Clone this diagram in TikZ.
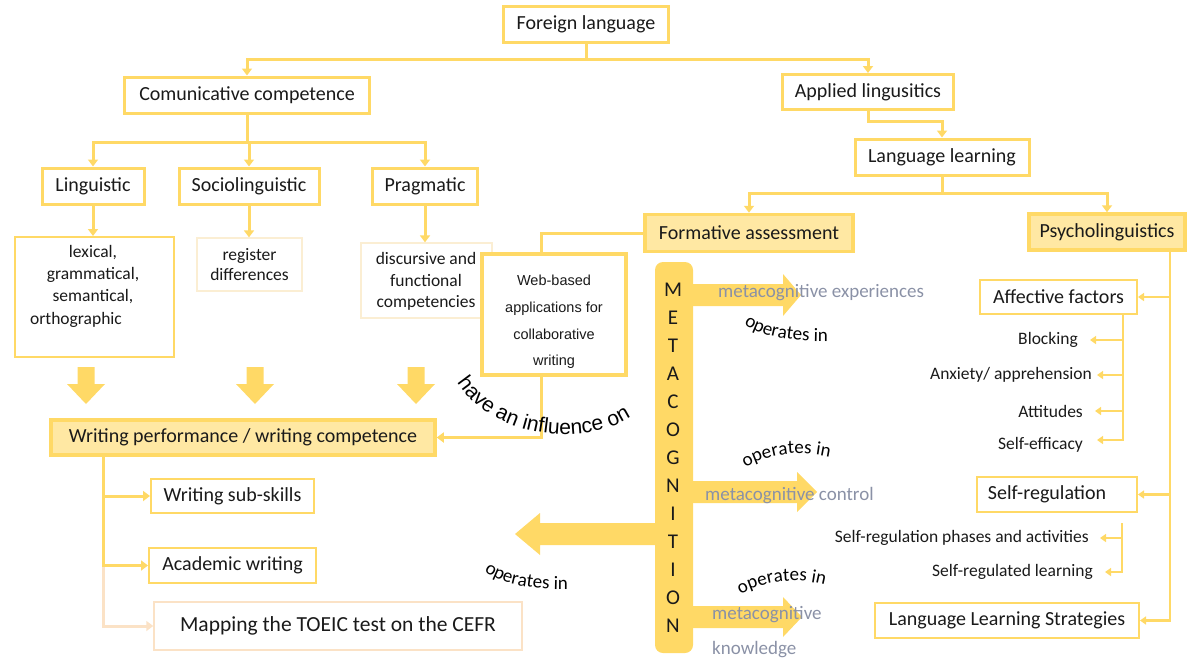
\documentclass[tikz,border=0pt]{standalone}
\usepackage{fontspec}
\setmainfont{Carlito}
\newfontfamily\arialf{Liberation Sans}
\usetikzlibrary{arrows.meta,decorations.text}
\definecolor{ylw}{HTML}{FFD966}
\definecolor{lyl}{HTML}{FFE8A3}
\definecolor{pale}{HTML}{FBEED3}
\definecolor{peach}{HTML}{FBE2C6}
\definecolor{gtxt}{HTML}{8A91A6}
\definecolor{ink}{HTML}{1A1A1A}
\begin{document}
\begin{tikzpicture}[x=1pt,y=-1pt,
  box/.style={draw=ylw, line width=3pt, fill=white, inner sep=0pt, text=ink, font=\fontsize{20}{24}\selectfont},
  hbox/.style={box, fill=lyl, line width=3.5pt},
  tbox/.style={draw=ylw, line width=2pt, fill=white, inner sep=0pt, text=ink, font=\fontsize{20}{24}\selectfont},
  pbox/.style={draw=pale, line width=1.3pt, fill=white, inner sep=0pt, text=ink, align=center},
  conn/.style={draw=ylw, line width=3pt, -{Triangle[width=10pt,length=7pt]}},
  pconn/.style={draw=peach, line width=3pt, -{Triangle[width=10pt,length=7pt]}},
  sconn/.style={draw=ylw, line width=2.5pt, -{Triangle[width=8pt,length=6pt]}},
  plain/.style={draw=ylw, line width=3pt},
  lbl/.style={inner sep=0pt, anchor=east, text=ink, font=\fontsize{17.5}{20}\selectfont},
  gl/.style={inner sep=0pt, anchor=west, text=gtxt, font=\fontsize{19}{22}\selectfont},
  txt/.style={inner sep=0pt, text=ink, align=center},
  letter/.style={inner sep=0pt, text=ink, font=\fontsize{21}{21}\selectfont},
]
\useasboundingbox (0,0) rectangle (1188,659);

% ---------- top part ----------
\node[box, minimum width=165, minimum height=36] (fl) at (586,24) {Foreign language};
\node[box, minimum width=245, minimum height=36] (cc) at (247,95) {Comunicative competence};
\node[box, minimum width=171, minimum height=35] (al) at (868,92) {Applied lingusitics};
\node[box, minimum width=174, minimum height=36] (ll) at (942,157) {Language learning};
\node[hbox, minimum width=208, minimum height=37] (fa) at (749,233) {Formative assessment};
\node[hbox, minimum width=156, minimum height=36] (ps) at (1107,232) {Psycholinguistics};
\node[box, minimum width=102, minimum height=36] (li) at (93,186) {Linguistic};
\node[box, minimum width=140, minimum height=36] (so) at (249,186) {Sociolinguistic};
\node[box, minimum width=105, minimum height=36] (pr) at (425,186) {Pragmatic};

\coordinate (j1) at (586,59);
\draw[conn] (fl.south) -- (j1) -| (cc.north);
\draw[conn] (j1) -| (al.north);
\coordinate (j2) at (868,121);
\draw[conn] (al.south) -- (j2) -| (ll.north);
\coordinate (j3) at (942,193);
\draw[conn] (ll.south) -- (j3) -| (fa.north);
\draw[conn] (j3) -| (ps.north);
\coordinate (j4) at (247,142);
\draw[conn] (cc.south) -- (j4) -| (li.north);
\draw[conn] (j4) -| (so.north);
\draw[conn] (j4) -| (pr.north);

% ---------- descriptions ----------
\node[tbox, minimum width=159, minimum height=120] (lid) at (94.5,297) {};
\node[txt, font=\fontsize{17.5}{22.3}\selectfont] (lidt) at (93,286) {lexical,\\grammatical,\\semantical,\\orthographic\hspace*{34pt}};
\node[pbox, minimum width=105, minimum height=53, font=\fontsize{17.5}{20}\selectfont] (sod) at (249.5,264.5) {register\\differences};
\node[pbox, minimum width=131, minimum height=75, font=\fontsize{17.5}{21.5}\selectfont] (prd) at (426.5,280.5) {};
\node[txt, font=\fontsize{17.5}{21.5}\selectfont] (prdt) at (426,281.5) {discursive and\\functional\\competencies};
\draw[conn] (li.south) -- (li.south |- lid.north);
\draw[conn] (so.south) -- (so.south |- sod.north);
\draw[conn] (pr.south) -- (pr.south |- prd.north);

% web-based box
\node[draw=ylw, line width=4pt, fill=white, minimum width=144, minimum height=121, inner sep=0pt] (web) at (554,314.5) {};
\node[txt, font=\arialf\fontsize{14.5}{26.7}\selectfont] (webt) at (554,322) {Web-based\\applications for\\collaborative\\writing};
\draw[plain] (fa.west) -| ([xshift=-13pt]web.north);

% big down arrows
\foreach \c in {86,255,416}
  \fill[ylw] (\c-8.5,367) -- (\c+8.5,367) -- (\c+8.5,384) -- (\c+19,384) -- (\c,404) -- (\c-19,384) -- (\c-8.5,384) -- cycle;

% writing performance
\node[hbox, minimum width=384, minimum height=35] (wp) at (243,437.5) {Writing performance / writing competence};
\draw[conn] ([xshift=-13pt]web.south) |- (wp.east);

\node[tbox, minimum width=163, minimum height=34] (ws) at (232.5,496) {Writing sub-skills};
\node[tbox, minimum width=167, minimum height=35] (aw) at (232.5,565.5) {Academic writing};
\node[draw=peach, line width=1.5pt, fill=white, minimum width=368, minimum height=48, inner sep=0pt, text=ink, font=\fontsize{21.5}{24}\selectfont] (mp) at (338,626) {Mapping the TOEIC test on the CEFR};
\coordinate (wb) at (103,455);
\coordinate (wc) at (103,566);
\draw[pconn] (wc) |- (mp.west);
\draw[conn] (wb) |- (ws.west);
\draw[conn] (wb) |- (aw.west);

% ---------- metacognition ----------
\fill[ylw] (693,284) -- (783,284) -- (783,274) -- (801,295) -- (783,316) -- (783,306) -- (693,306) -- cycle;
\fill[ylw] (693,481) -- (797,481) -- (797,472) -- (817,492) -- (797,512) -- (797,503) -- (693,503) -- cycle;
\fill[ylw] (693,606) -- (783,606) -- (783,597) -- (802,617) -- (783,637) -- (783,628) -- (693,628) -- cycle;
\fill[ylw] (656,523) -- (540,523) -- (540,513) -- (515,534) -- (540,555) -- (540,545) -- (656,545) -- cycle;
\node[fill=ylw, rounded corners=8pt, minimum width=38, minimum height=391, inner sep=0pt] (mc) at (674,457.5) {};
\foreach \l [count=\i] in {M,E,T,A,C,O,G,N,I,T,I,O,N}
  \node[letter] (m\i) at (673,262+28*\i) {\l};

\node[gl] (g1) at (718,293) {metacognitive experiences};
\node[gl] (g2) at (705,496) {metacognitive control};
\node[gl] (g3) at (712,615) {metacognitive};
\node[gl] (g4) at (712,650) {knowledge};

\path[decorate, decoration={text along path, text align=center,
  text={|\fontsize{19}{19}\selectfont|operates in}}]
  (736,318) .. controls (758,338) and (790,342) .. (838,341);
\path[decorate, decoration={text along path, text align=center,
  text={|\fontsize{19}{19}\selectfont|operates in}}]
  (738,472) .. controls (768,452) and (800,449) .. (838,459);
\path[decorate, decoration={text along path, text align=center,
  text={|\fontsize{19}{19}\selectfont|operates in}}]
  (734,598) .. controls (764,580) and (796,576) .. (832,587);
\path[decorate, decoration={text along path, text align=center,
  text={|\fontsize{19}{19}\selectfont|operates in}}]
  (478,566) .. controls (498,586) and (532,590) .. (576,589);
\path[decorate, decoration={text along path, text align=center,
  text={|\arialf\fontsize{21}{21}\selectfont|have an influence on}}]
  (450,370) .. controls (485,445) and (600,450) .. (642,408);

% ---------- psycholinguistics side ----------
\node[tbox, minimum width=157, minimum height=34] (af) at (1058.5,297) {Affective factors};
\node[tbox, minimum width=160, minimum height=35] (sr) at (1057,494.5) {Self-regulation\hspace*{20pt}};
\node[tbox, minimum width=264, minimum height=35] (lls) at (1007,620.5) {Language Learning Strategies};
\coordinate (pv) at (1170,250);
\draw[sconn] (pv) |- (af.east);
\draw[sconn] (pv) |- (sr.east);
\draw[sconn] (pv) |- (lls.east);

\node[lbl] (bl) at (1078,340) {Blocking};
\node[lbl] (an) at (1092,375) {Anxiety/ apprehension};
\node[lbl] (at) at (1083,411) {Attitudes};
\node[lbl] (se) at (1083,445) {Self-efficacy};
\coordinate (av) at (1123,314);
\draw[sconn] (av) |- ([xshift=12pt]bl.east);
\draw[sconn] (av) |- ([xshift=5pt]an.east);
\draw[sconn] (av) |- ([xshift=12pt]at.east);
\draw[sconn] (av) |- ([xshift=14pt,yshift=5pt]se.east);

\node[lbl] (sp) at (1089,538) {Self-regulation phases and activities};
\node[lbl] (sl) at (1093,572) {Self-regulated learning};
\coordinate (sv) at (1122,523);
\draw[sconn] (sv) |- ([xshift=11pt]sp.east);
\draw[sconn] (sv) |- ([xshift=12pt]sl.east);
\end{tikzpicture}
\end{document}
